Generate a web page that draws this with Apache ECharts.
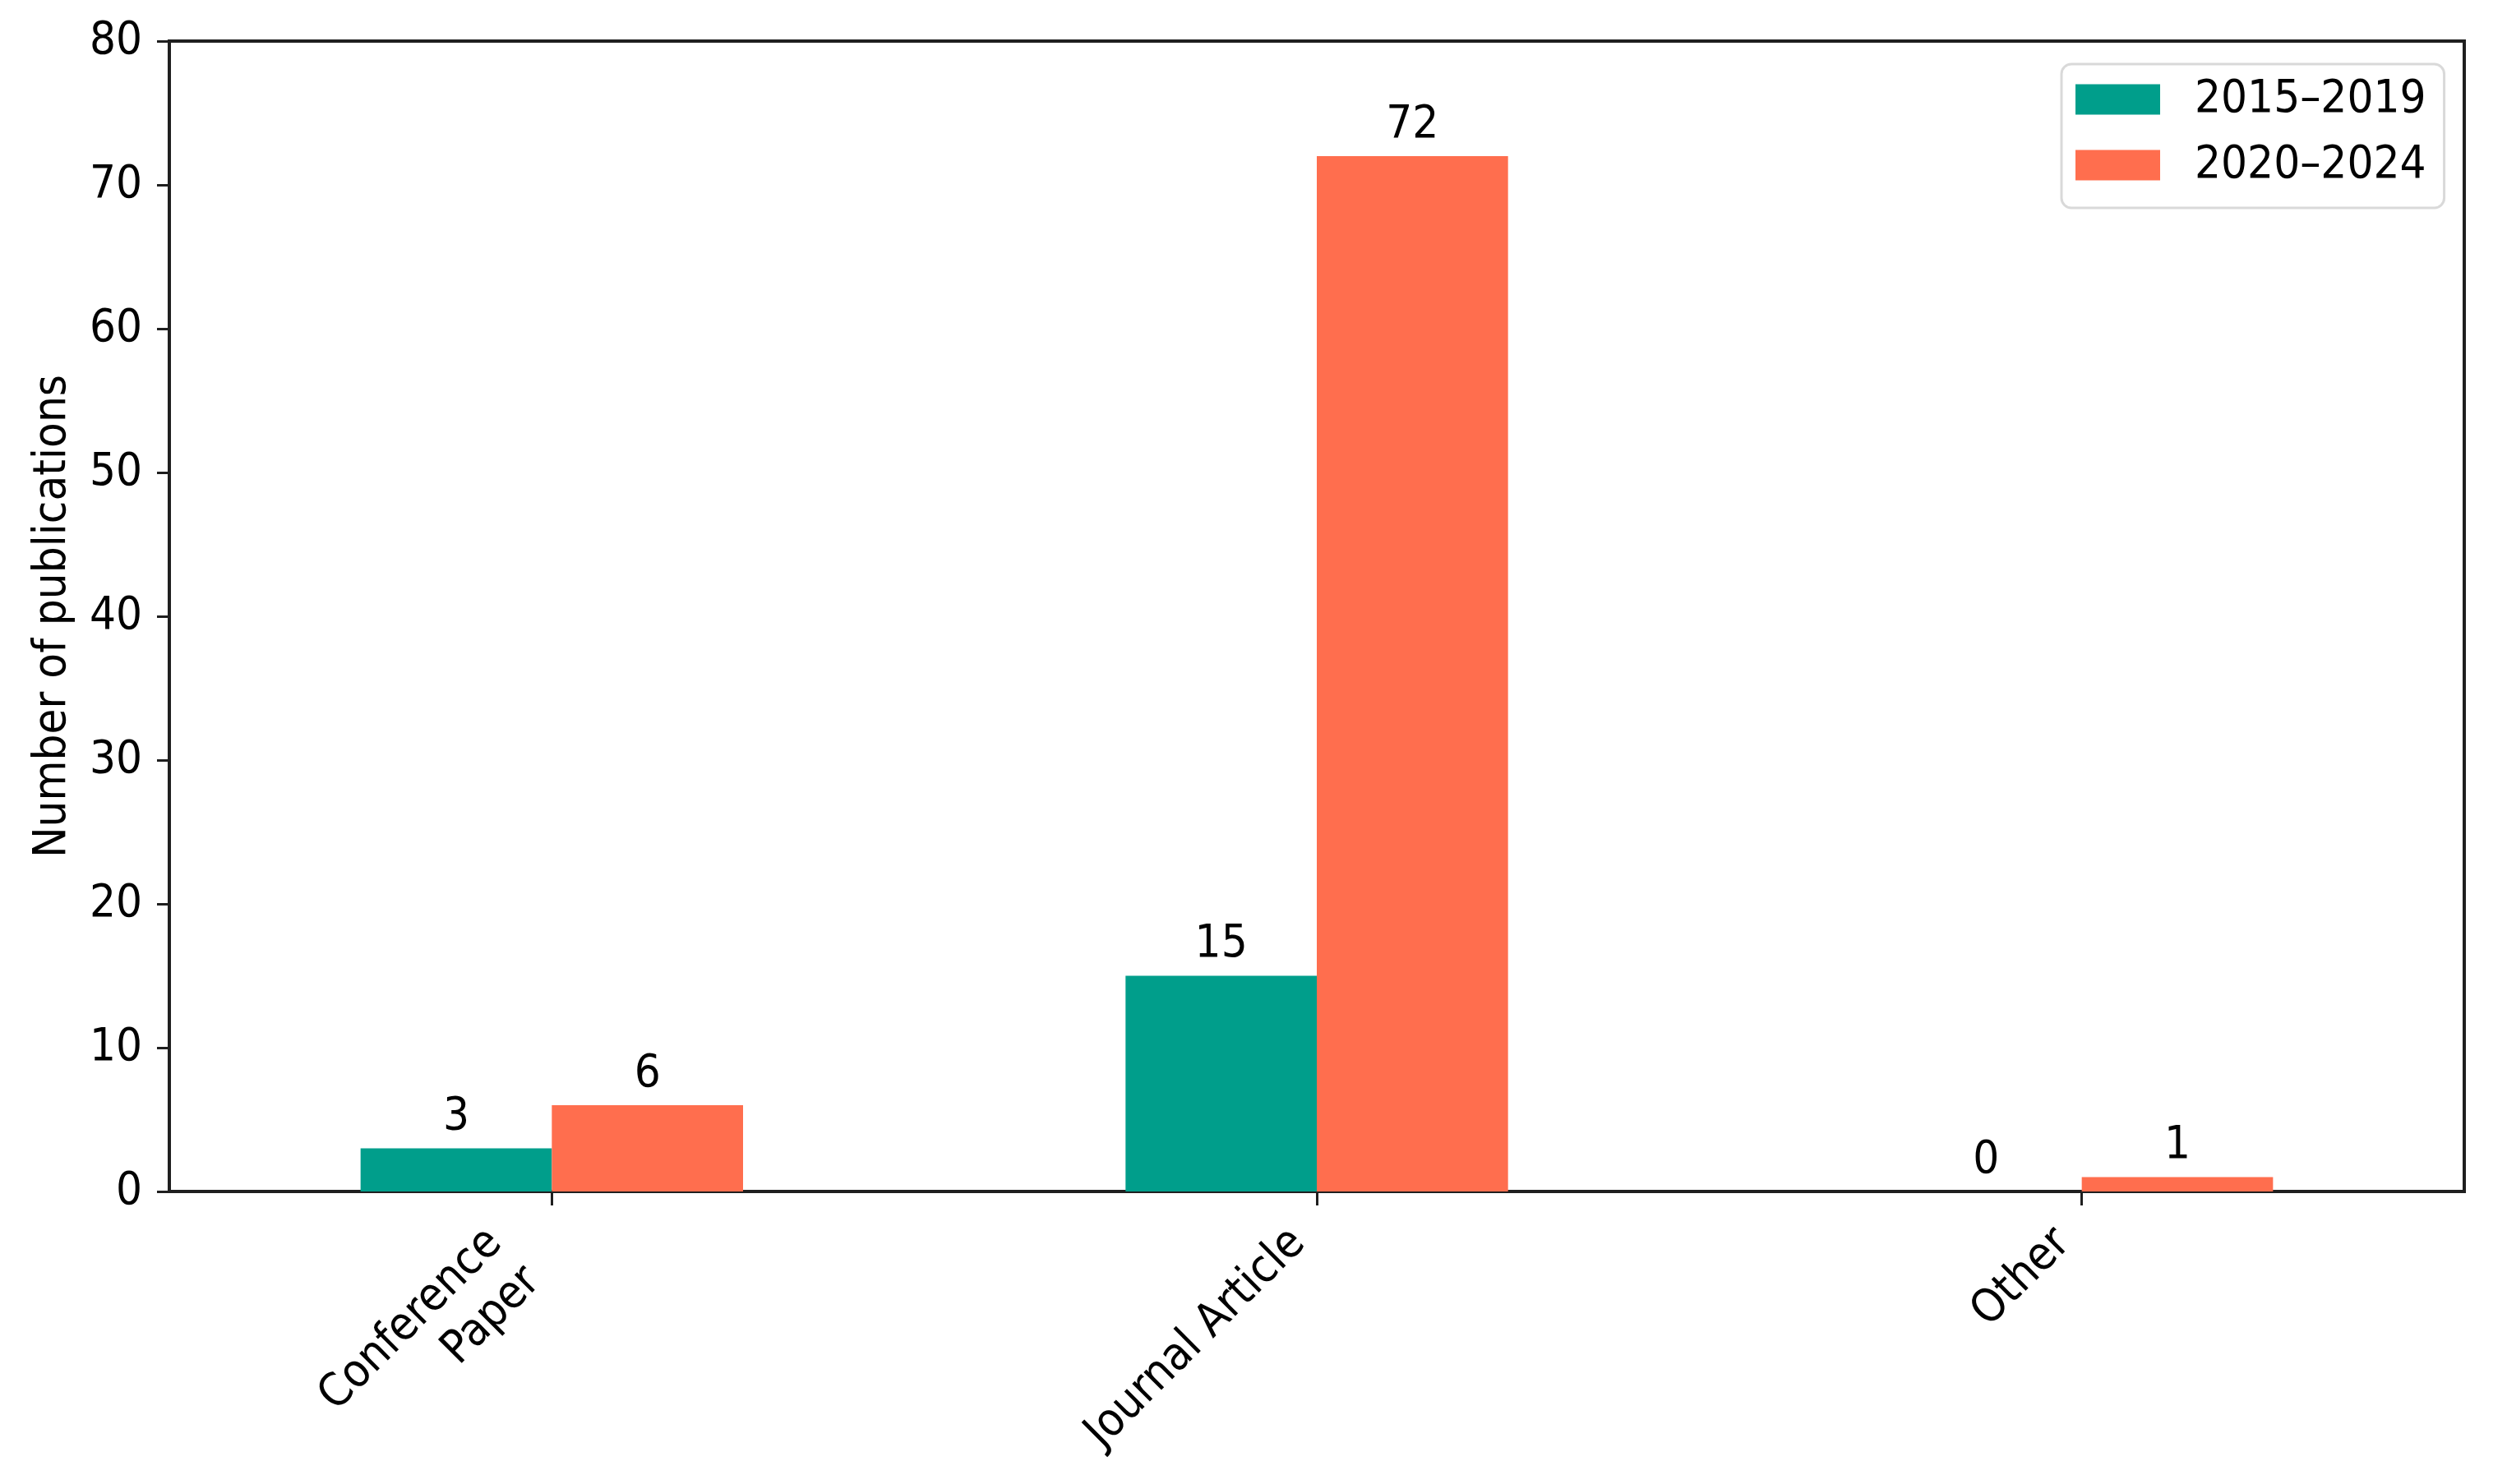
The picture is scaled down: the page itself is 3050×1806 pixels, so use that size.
<!DOCTYPE html>
<html>
<head>
<meta charset="utf-8">
<script src="https://cdn.jsdelivr.net/npm/echarts@6/dist/echarts.min.js"></script>
<style>
html,body{margin:0;padding:0;background:#fff;}
#c{width:3050px;height:1806px;}
</style>
</head>
<body>
<div id="c"></div>
<script>
const categories = ['Conference\nPaper', 'Journal Article', 'Other'];
const seriesNames = ['2015\u20132019', '2020\u20132024'];
const values2015 = [3, 15, 0];
const values2020 = [6, 72, 1];
const yTicks = {min: 0, max: 80, interval: 10};

const FONT = '"DejaVu Sans Condensed", "DejaVu Sans", sans-serif';
const FS = 56;
const AX = '#1f1f1f';

const chart = echarts.init(document.getElementById('c'), null, {renderer: 'canvas'});

const catData = categories.map(c => ({
  value: c,
  textStyle: {padding: [0, c.indexOf('\n') >= 0 ? 65 : 32, 0, 0]}
}));

chart.setOption({
  animation: false,
  backgroundColor: '#fff',
  textStyle: {fontFamily: FONT},
  grid: {
    left: 206, right: 52, top: 50, bottom: 356,
    show: true, borderColor: AX, borderWidth: 4, backgroundColor: 'transparent'
  },
  legend: {
    orient: 'vertical',
    left: 2508, top: 78,
    data: seriesNames,
    icon: 'rect',
    itemWidth: 103, itemHeight: 37,
    itemGap: 20,
    padding: [13, 22, 22, 17],
    backgroundColor: '#fff',
    borderColor: '#d9d9d9', borderWidth: 3, borderRadius: 12,
    textStyle: {fontFamily: FONT, fontSize: FS, color: '#000', lineHeight: 60, padding: [0, 0, 0, 37]}
  },
  xAxis: {
    type: 'category',
    data: catData,
    axisLine: {lineStyle: {color: AX, width: 4}},
    axisTick: {show: true, alignWithLabel: true, length: 17, lineStyle: {color: AX, width: 3}},
    axisLabel: {
      rotate: 45, margin: 32, interval: 0,
      fontFamily: FONT, fontSize: FS, color: '#000', lineHeight: 66
    },
    splitLine: {show: false}
  },
  yAxis: {
    type: 'value',
    min: yTicks.min, max: yTicks.max, interval: yTicks.interval,
    name: 'Number of publications',
    nameLocation: 'middle',
    nameGap: 114,
    nameTextStyle: {fontFamily: FONT, fontSize: FS, color: '#000'},
    axisLine: {show: true, lineStyle: {color: AX, width: 4}},
    axisTick: {show: true, length: 15, lineStyle: {color: AX, width: 3}},
    axisLabel: {margin: 33, fontFamily: FONT, fontSize: FS, color: '#000'},
    splitLine: {show: false}
  },
  series: [
    {
      name: seriesNames[0], type: 'bar', data: values2015,
      barGap: '0%', barCategoryGap: '50%',
      itemStyle: {color: '#009E8B'},
      label: {show: true, position: 'top', distance: 10, fontFamily: FONT, fontSize: FS, color: '#000'}
    },
    {
      name: seriesNames[1], type: 'bar', data: values2020,
      barGap: '0%', barCategoryGap: '50%',
      itemStyle: {color: '#FF6E4E'},
      label: {show: true, position: 'top', distance: 10, fontFamily: FONT, fontSize: FS, color: '#000'}
    }
  ]
});
</script>
</body>
</html>
